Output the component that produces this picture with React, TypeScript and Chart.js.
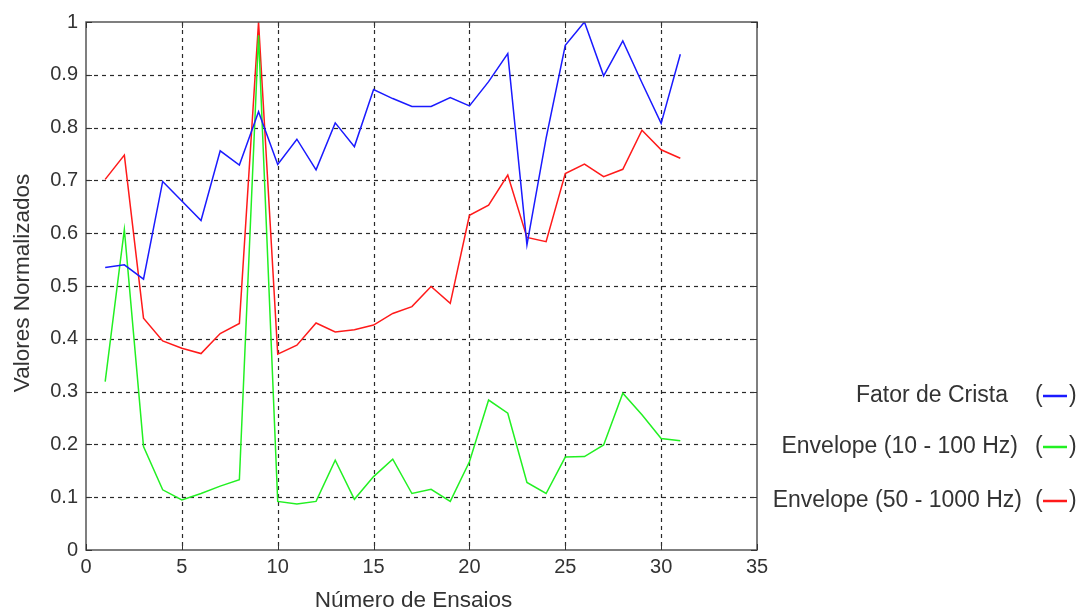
import React, { useEffect, useRef } from "react";
import { Chart, registerables } from "chart.js";

Chart.register(...registerables);

const trials = [1, 2, 3, 4, 5, 6, 7, 8, 9, 10, 11, 12, 13, 14, 15, 16, 17, 18, 19, 20, 21, 22, 23, 24, 25, 26, 27, 28, 29, 30, 31];

const fatorDeCrista = [0.535, 0.54, 0.513, 0.698, 0.661, 0.624, 0.756, 0.729, 0.83, 0.73, 0.778, 0.72, 0.809, 0.764, 0.872, 0.855, 0.84, 0.84, 0.857, 0.841, 0.887, 0.94, 0.578, 0.78, 0.956, 1.0, 0.898, 0.964, 0.885, 0.808, 0.939];

const envelope10a100 = [0.319, 0.607, 0.196, 0.114, 0.095, 0.107, 0.121, 0.133, 0.975, 0.092, 0.087, 0.092, 0.17, 0.096, 0.139, 0.172, 0.107, 0.115, 0.092, 0.167, 0.284, 0.259, 0.128, 0.107, 0.176, 0.177, 0.199, 0.297, 0.256, 0.211, 0.207];

const envelope50a1000 = [0.702, 0.748, 0.439, 0.396, 0.382, 0.372, 0.41, 0.429, 1.0, 0.371, 0.388, 0.43, 0.413, 0.417, 0.426, 0.448, 0.461, 0.499, 0.467, 0.634, 0.653, 0.71, 0.592, 0.584, 0.713, 0.731, 0.707, 0.721, 0.795, 0.758, 0.742];

const xTickLabels = ["0", "5", "10", "15", "20", "25", "30", "35"];
const yTickLabels = ["0", "0.1", "0.2", "0.3", "0.4", "0.5", "0.6", "0.7", "0.8", "0.9", "1"];

const seriesLabels = ["Fator de Crista", "Envelope (10 - 100 Hz)", "Envelope (50 - 1000 Hz)"];
const seriesColors = ["#1a1aff", "#22f022", "#ff1a1a"];
const xAxisTitle = "Número de Ensaios";
const yAxisTitle = "Valores Normalizados";

const FONT = "'Liberation Sans', Arial, sans-serif";
const TEXT = "#333333";

const framePlugin = {
  id: "matlabFrame",
  beforeDatasetsDraw(chart: any) {
    const { ctx, chartArea: a, scales } = chart;
    const xs = scales.x;
    const ys = scales.y;
    ctx.save();
    ctx.strokeStyle = "#2a2a2a";
    ctx.lineWidth = 1.2;
    ctx.setLineDash([4, 4]);
    xs.ticks.forEach((t: any) => {
      const px = Math.round(xs.getPixelForValue(t.value)) + 0.5;
      if (px > a.left + 2 && px < a.right - 2) {
        ctx.beginPath();
        ctx.moveTo(px, a.top);
        ctx.lineTo(px, a.bottom);
        ctx.stroke();
      }
    });
    ys.ticks.forEach((t: any) => {
      const py = Math.round(ys.getPixelForValue(t.value)) + 0.5;
      if (py > a.top + 2 && py < a.bottom - 2) {
        ctx.beginPath();
        ctx.moveTo(a.left, py);
        ctx.lineTo(a.right, py);
        ctx.stroke();
      }
    });
    ctx.restore();
  },
  afterDatasetsDraw(chart: any) {
    const { ctx, chartArea: a, scales } = chart;
    const xs = scales.x;
    const ys = scales.y;
    ctx.save();
    // box
    ctx.setLineDash([]);
    ctx.strokeStyle = "#555555";
    ctx.lineWidth = 1.5;
    ctx.strokeRect(a.left, a.top, a.right - a.left, a.bottom - a.top);
    // inward tick marks
    ctx.lineWidth = 1;
    ctx.strokeStyle = "#333333";
    const tl = 6;
    xs.ticks.forEach((t: any) => {
      const px = Math.round(xs.getPixelForValue(t.value)) + 0.5;
      ctx.beginPath();
      ctx.moveTo(px, a.bottom);
      ctx.lineTo(px, a.bottom - tl);
      ctx.moveTo(px, a.top);
      ctx.lineTo(px, a.top + tl);
      ctx.stroke();
    });
    ys.ticks.forEach((t: any) => {
      const py = Math.round(ys.getPixelForValue(t.value)) + 0.5;
      ctx.beginPath();
      ctx.moveTo(a.left, py);
      ctx.lineTo(a.left + tl, py);
      ctx.moveTo(a.right, py);
      ctx.lineTo(a.right - tl, py);
      ctx.stroke();
    });

    // axis titles
    ctx.fillStyle = TEXT;
    ctx.font = `22.5px ${FONT}`;
    ctx.textAlign = "center";
    ctx.textBaseline = "alphabetic";
    ctx.fillText(xAxisTitle, 413.5, 607);
    ctx.save();
    ctx.translate(28.5, 283);
    ctx.rotate(-Math.PI / 2);
    ctx.fillText(yAxisTitle, 0, 0);
    ctx.restore();

    // legend (right side)
    const rows = [
      { y: 402, right: 1008 },
      { y: 453, right: 1018 },
      { y: 507, right: 1022 },
    ];
    ctx.font = `23px ${FONT}`;
    rows.forEach((r, i) => {
      ctx.fillStyle = TEXT;
      ctx.textAlign = "right";
      ctx.fillText(seriesLabels[i], r.right, r.y);
      ctx.textAlign = "left";
      ctx.fillText("(", 1035, r.y);
      ctx.fillText(")", 1069, r.y);
      ctx.strokeStyle = seriesColors[i];
      ctx.lineWidth = 2.5;
      ctx.beginPath();
      ctx.moveTo(1043, r.y - 6);
      ctx.lineTo(1067, r.y - 6);
      ctx.stroke();
    });
    ctx.restore();
  },
};

export default function App() {
  const ref = useRef<HTMLCanvasElement>(null);
  useEffect(() => {
    const canvas = ref.current;
    if (!canvas) return;
    const mk = (label: string, values: number[], color: string) => ({
      label,
      data: trials.map((x, i) => ({ x, y: values[i] })),
      borderColor: color,
      backgroundColor: color,
      borderWidth: 1.5,
      pointRadius: 0,
      tension: 0,
      fill: false,
    });
    const chart = new Chart(canvas, {
      type: "line",
      data: {
        datasets: [
          mk(seriesLabels[0], fatorDeCrista, seriesColors[0]),
          mk(seriesLabels[1], envelope10a100, seriesColors[1]),
          mk(seriesLabels[2], envelope50a1000, seriesColors[2]),
        ],
      },
      options: {
        responsive: false,
        animation: false,
        devicePixelRatio: 1,
        layout: { padding: { left: 0, right: 321, top: 22, bottom: 0 } },
        plugins: { legend: { display: false }, tooltip: { enabled: false } },
        scales: {
          x: {
            type: "linear",
            min: 0,
            max: 35,
            grid: { display: false, drawTicks: false },
            border: { display: false },
            ticks: {
              stepSize: 5,
              autoSkip: false,
              maxRotation: 0,
              padding: 5,
              color: TEXT,
              font: { family: FONT, size: 20 },
              callback: (_v: any, i: number) => xTickLabels[i],
            },
            afterFit: (s: any) => {
              s.height = 59;
            },
          },
          y: {
            type: "linear",
            min: 0,
            max: 1,
            grid: { display: false, drawTicks: false },
            border: { display: false },
            ticks: {
              stepSize: 0.1,
              autoSkip: false,
              padding: 8,
              color: TEXT,
              font: { family: FONT, size: 20 },
              callback: (_v: any, i: number) => yTickLabels[i],
            },
            afterFit: (s: any) => {
              s.width = 86;
            },
          },
        },
      },
      plugins: [framePlugin],
    } as any);
    return () => chart.destroy();
  }, []);

  return (
    <div style={{ position: "fixed", left: 0, top: 0, width: 1078, height: 609, background: "#fff" }}>
      <canvas ref={ref} width={1078} height={609} style={{ display: "block", width: 1078, height: 609 }} />
    </div>
  );
}
